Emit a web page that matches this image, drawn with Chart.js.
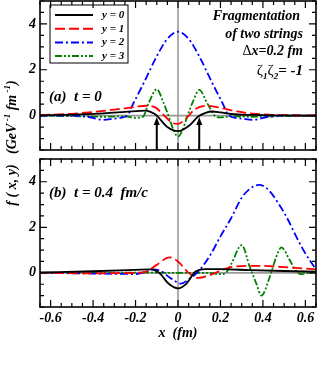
<!DOCTYPE html>
<html>
<head>
<meta charset="utf-8">
<script src="https://cdn.jsdelivr.net/npm/chart.js@4.4.1/dist/chart.umd.min.js"></script>
<style>
  body{margin:0;background:#fff;width:318px;height:389px;overflow:hidden;position:relative;
       font-family:"Liberation Serif","Times New Roman",serif;font-weight:bold;font-style:italic;color:#000}
  .box{position:absolute;left:0;width:318px}
  #boxTop{top:0;height:152px}
  #boxBot{top:155px;height:190px}
  .lbl{position:absolute;white-space:nowrap;line-height:1;font-size:14px}
  .up{font-style:normal;font-weight:normal}
  sup,sub{font-size:9px;line-height:0}
</style>
</head>
<body>
<div class="box" id="boxTop"><canvas id="chartTop"></canvas></div>
<div class="box" id="boxBot"><canvas id="chartBot"></canvas></div>

<div class="lbl" style="left:49px;top:89px;font-size:15px">(a)&nbsp; t = 0</div>
<div class="lbl" style="left:49px;top:185px;font-size:15px">(b)&nbsp; t = 0.4&nbsp; fm/c</div>
<div class="lbl" style="right:18px;top:9px">Fragmentation</div>
<div class="lbl" style="right:15px;top:27px">of two strings</div>
<div class="lbl" style="right:15px;top:44px"><span class="up">Δ</span>x=0.2 fm</div>
<div class="lbl" style="right:15px;top:63px;font-size:15px"><span class="up">ζ</span><sub>1</sub><span class="up">ζ</span><sub>2</sub>= -1</div>
<div class="lbl" style="left:12px;top:143px;font-size:14px;transform:translate(-50%,-50%) rotate(-90deg)">f ( x, y)&nbsp;&nbsp; (GeV<sup> -1</sup> fm<sup> -1</sup>)</div>

<script>
// tick labels
const xTickLabels = ['-0.6', '-0.4', '-0.2', '0', '0.2', '0.4', '0.6'];
const yTickLabels = ['0', '2', '4'];
const seriesNames = ['y = 0', 'y = 1', 'y = 2', 'y = 3'];

// panel (a), t = 0
const aX0 = [-0.65, -0.5, -0.35, -0.25, -0.15, -0.115, -0.1, -0.05, 0, 0.055, 0.095, 0.13, 0.16, 0.2, 0.25, 0.35, 0.5, 0.65];
const aY0 = [0.01, 0.04, 0.1, 0.16, 0.22, 0.1, 0.0, -0.5, -0.68, -0.42, -0.04, 0.12, 0.18, 0.14, 0.07, 0.03, 0.01, 0.0];
const aX1 = [-0.65, -0.5, -0.4, -0.3, -0.2, -0.15, -0.11, -0.06, -0.03, 0, 0.04, 0.08, 0.14, 0.21, 0.28, 0.35, 0.45, 0.65];
const aY1 = [0.02, 0.08, 0.16, 0.26, 0.38, 0.43, 0.37, -0.04, -0.3, -0.36, -0.11, 0.28, 0.43, 0.32, 0.18, 0.09, 0.03, 0.01];
const aX2 = [-0.65, -0.5, -0.42, -0.35, -0.3, -0.24, -0.21, -0.16, -0.1, -0.05, 0, 0.05, 0.1, 0.16, 0.21, 0.24, 0.3, 0.35, 0.42, 0.5, 0.65];
const aY2 = [0, 0, -0.06, -0.19, -0.13, 0, 0.54, 1.45, 2.59, 3.35, 3.66, 3.35, 2.59, 1.45, 0.54, 0, -0.13, -0.19, -0.06, 0, 0];
const aX3 = [-0.65, -0.45, -0.35, -0.25, -0.2, -0.165, -0.14, -0.1, -0.07, -0.045, -0.02, 0, 0.02, 0.045, 0.07, 0.1, 0.14, 0.175, 0.2, 0.25, 0.35, 0.45, 0.65];
const aY3 = [0, -0.03, -0.05, -0.03, -0.1, -0.05, 0.5, 1.15, 0.6, 0, -0.65, -0.92, -0.65, 0, 0.6, 1.12, 0.5, -0.02, -0.08, -0.03, -0.05, -0.03, 0];

// panel (b), t = 0.4 fm/c
const bX0 = [-0.65, -0.4, -0.2, -0.13, -0.085, -0.045, 0, 0.04, 0.08, 0.13, 0.2, 0.34, 0.5, 0.65];
const bY0 = [0.02, 0.07, 0.13, 0.15, -0.03, -0.47, -0.68, -0.47, 0.04, 0.16, 0.16, 0.12, 0.08, 0.05];
const bX1 = [-0.65, -0.4, -0.2, -0.15, -0.1, -0.04, 0, 0.05, 0.095, 0.15, 0.2, 0.26, 0.38, 0.5, 0.65];
const bY1 = [0, -0.02, 0, 0.05, 0.35, 0.68, 0.5, 0, -0.22, -0.1, 0.1, 0.27, 0.31, 0.25, 0.15];
const bX2 = [-0.65, -0.4, -0.2, -0.15, -0.12, -0.08, -0.04, 0.015, 0.055, 0.095, 0.15, 0.2, 0.25, 0.3, 0.34, 0.38, 0.42, 0.48, 0.52, 0.557, 0.6, 0.65];
const bY2 = [0, -0.03, -0.05, 0.05, 0.15, 0.08, -0.2, -0.47, -0.25, 0.05, 0.75, 1.6, 2.4, 3.3, 3.7, 3.86, 3.7, 2.95, 2.3, 1.59, 0.85, 0.15];
const bX3 = [-0.65, -0.2, 0, 0.15, 0.2, 0.225, 0.252, 0.3, 0.338, 0.369, 0.393, 0.432, 0.463, 0.487, 0.526, 0.557, 0.58, 0.6, 0.65];
const bY3 = [0, 0.01, 0, 0, -0.06, 0, 0.41, 1.22, 0.26, -0.47, -1.0, -0.18, 0.7, 1.12, 0.56, 0.07, -0.06, -0.02, 0];

// arrows in panel (a)
const arrowX = [-0.1, 0.1];
const arrowTip = -0.06;

const colors = ['#000000', '#ff0000', '#0000ff', '#008000'];
const dashes = [[], [10, 4], [8, 3, 2, 3], [7, 2, 2, 2, 2, 2]];
const font = {family: '"Liberation Serif", "Times New Roman", serif', size: 14, style: 'italic', weight: 'bold'};

const pts = (xs, ys) => xs.map((x, i) => ({x, y: ys[i]}));

function datasets(xsList, ysList){
  return xsList.map((xs, i) => ({
    label: seriesNames[i],
    data: pts(xs, ysList[i]),
    borderColor: colors[i],
    borderDash: dashes[i],
    borderWidth: 1.8,
    pointRadius: 0,
    cubicInterpolationMode: 'monotone',
    fill: false
  }));
}

const framePlugin = {
  id: 'frame',
  beforeDatasetsDraw(chart){
    const {ctx, chartArea: a, scales: {x, y}} = chart;
    const x0 = x.getPixelForValue(0), y0 = y.getPixelForValue(0);
    ctx.save();
    ctx.strokeStyle = '#9a9a9a';
    ctx.lineWidth = 1.6;
    ctx.beginPath();
    ctx.moveTo(x0, a.top); ctx.lineTo(x0, a.bottom);
    ctx.moveTo(a.left, y0); ctx.lineTo(a.right, y0);
    ctx.stroke();
    ctx.restore();
  },
  afterDatasetsDraw(chart, args, opts){
    const {ctx, chartArea: a, scales: {x, y}} = chart;
    ctx.save();
    ctx.strokeStyle = '#000';
    ctx.lineWidth = 1.2;
    ctx.beginPath();
    for(let k = -13; k <= 13; k++){
      const px = x.getPixelForValue(k * 0.05);
      const len = k % 4 === 0 ? 7 : 4;
      ctx.moveTo(px, a.bottom); ctx.lineTo(px, a.bottom - len);
      ctx.moveTo(px, a.top); ctx.lineTo(px, a.top + len);
    }
    for(let k = -3; k <= 10; k++){
      const py = y.getPixelForValue(k * 0.5);
      const len = k % 4 === 0 ? 7 : 4;
      ctx.moveTo(a.left, py); ctx.lineTo(a.left + len, py);
      ctx.moveTo(a.right, py); ctx.lineTo(a.right - len, py);
    }
    ctx.stroke();
    ctx.lineWidth = 1.6;
    ctx.strokeRect(a.left, a.top, a.right - a.left, a.bottom - a.top);

    if(opts.arrows){
      ctx.fillStyle = '#000';
      ctx.lineWidth = 2;
      arrowX.forEach(v => {
        const px = x.getPixelForValue(v);
        const tip = y.getPixelForValue(arrowTip);
        ctx.beginPath();
        ctx.moveTo(px, a.bottom); ctx.lineTo(px, tip + 6);
        ctx.stroke();
        ctx.beginPath();
        ctx.moveTo(px, tip); ctx.lineTo(px - 3, tip + 8); ctx.lineTo(px + 3, tip + 8);
        ctx.closePath(); ctx.fill();
      });
    }

    if(opts.legend){
      const lx = a.left + 10, ly = a.top + 4;
      ctx.lineWidth = 1;
      ctx.strokeRect(lx, ly, 78, 58);
      ctx.font = 'italic bold 11px "Liberation Serif", serif';
      ctx.textBaseline = 'middle';
      chart.data.datasets.forEach((ds, i) => {
        const ry = ly + 10 + i * 13.7;
        ctx.strokeStyle = ds.borderColor;
        ctx.setLineDash(ds.borderDash);
        ctx.lineWidth = 2;
        ctx.beginPath(); ctx.moveTo(lx + 5, ry); ctx.lineTo(lx + 43, ry); ctx.stroke();
        ctx.setLineDash([]);
        ctx.fillStyle = '#000';
        ctx.fillText(ds.label, lx + 52, ry);
      });
    }
    ctx.restore();
  }
};

function yScale(){
  return {
    min: -1.5, max: 5,
    afterFit: s => { s.width = 40; s.paddingTop = 0; s.paddingBottom = 0; },
    afterBuildTicks: s => { s.ticks = yTickLabels.map(v => ({value: +v})); },
    grid: {display: false, drawTicks: false},
    border: {display: false},
    ticks: {padding: 4, color: '#000', font, callback: (v, i) => yTickLabels[i]}
  };
}

new Chart(document.getElementById('chartTop'), {
  type: 'line',
  data: {datasets: datasets([aX0, aX1, aX2, aX3], [aY0, aY1, aY2, aY3])},
  options: {
    responsive: true,
    maintainAspectRatio: false,
    animation: false,
    layout: {padding: {top: 1, right: 2, bottom: 2, left: 0}},
    plugins: {legend: {display: false}, tooltip: {enabled: false}, frame: {arrows: true, legend: true}},
    scales: {
      x: {type: 'linear', min: -0.65, max: 0.65, display: false},
      y: yScale()
    }
  },
  plugins: [framePlugin]
});

new Chart(document.getElementById('chartBot'), {
  type: 'line',
  data: {datasets: datasets([bX0, bX1, bX2, bX3], [bY0, bY1, bY2, bY3])},
  options: {
    responsive: true,
    maintainAspectRatio: false,
    animation: false,
    layout: {padding: {top: 4, right: 2, bottom: 0, left: 0}},
    plugins: {legend: {display: false}, tooltip: {enabled: false}, frame: {arrows: false, legend: false}},
    scales: {
      x: {
        type: 'linear', min: -0.65, max: 0.65,
        afterFit: s => { s.height = 38; s.paddingLeft = 0; s.paddingRight = 0; },
        afterBuildTicks: s => { s.ticks = xTickLabels.map(v => ({value: +v})); },
        grid: {display: false, drawTicks: false},
        border: {display: false},
        ticks: {padding: 3, color: '#000', font, maxRotation: 0, autoSkip: false, callback: (v, i) => xTickLabels[i]},
        title: {display: true, text: 'x  (fm)', color: '#000', font, padding: {top: 0, bottom: 3}}
      },
      y: yScale()
    }
  },
  plugins: [framePlugin]
});
</script>
</body>
</html>
